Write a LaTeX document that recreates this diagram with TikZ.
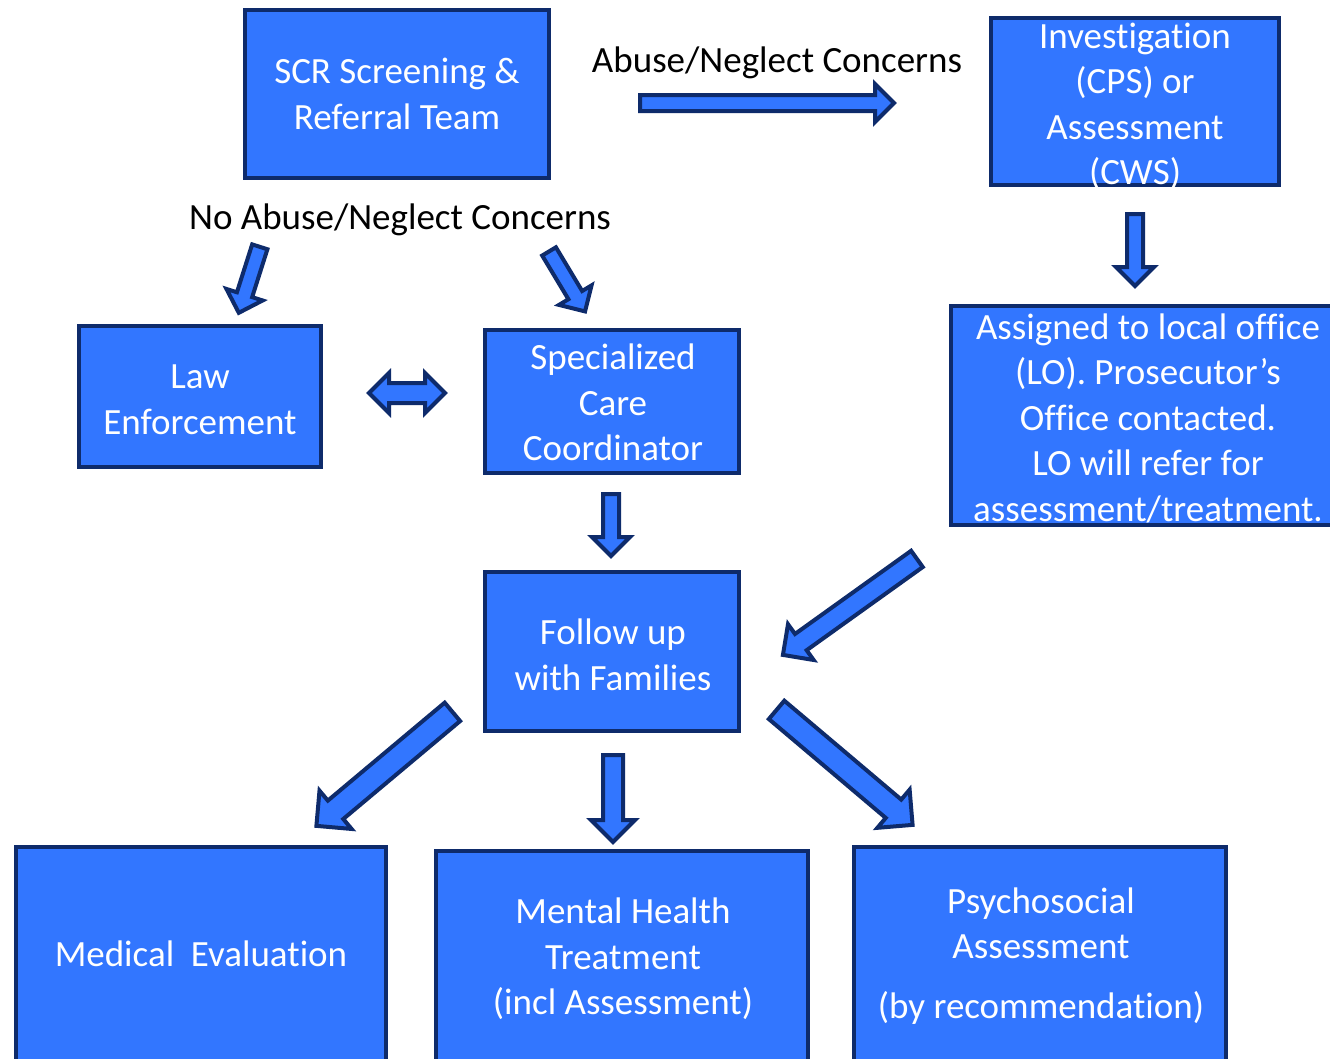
\documentclass[tikz,border=0pt]{standalone}
\usepackage{fontspec}
\setmainfont[Ligatures={NoCommon,NoContextual}]{Carlito}
\usetikzlibrary{shapes.arrows,calc}
\definecolor{boxblue}{RGB}{50,118,255}
\definecolor{navy}{RGB}{14,43,107}
\tikzset{
  box/.style={draw=navy, fill=boxblue, line width=4pt, inner sep=0pt},
  wtext/.style={text=white, align=center, inner sep=0pt, font=\fontsize{37}{45.5}\selectfont},
  lbl/.style={text=black, inner sep=0pt, font=\fontsize{37}{45.5}\selectfont},
  barrow/.style={single arrow, draw=navy, fill=boxblue, line width=4pt, inner xsep=0pt, inner ysep=6pt, single arrow head extend=11pt, single arrow tip angle=90},
  thickarr/.style={inner ysep=10pt, single arrow head extend=13pt},
  midarr/.style={inner ysep=8pt, single arrow head extend=12pt},
  bdarrow/.style={double arrow, draw=navy, fill=boxblue, line width=4pt, inner xsep=0pt, inner ysep=8pt, double arrow head extend=10pt, double arrow tip angle=90},
}
\newcommand\blockarrow[3][]{%
  \path let \p1=(#2), \p2=(#3), \n1={atan2(\y2-\y1,\x2-\x1)}, \n2={veclen(\x2-\x1,\y2-\y1)} in
    node[barrow,#1,minimum height=\n2,rotate=\n1] (#2-#3) at ($(#2)!0.5!(#3)$) {};}
\begin{document}
\begin{tikzpicture}[x=1pt,y=-1pt]
\useasboundingbox (0,0) rectangle (1330,1058);
% boxes
\node[box, minimum width=304, minimum height=168] (scr) at (397,94) {};
\node[wtext] (scrt) at (397,94) {SCR Screening \&\\Referral Team};
\node[box, minimum width=288, minimum height=167] (inv) at (1135,101.5) {};
\node[wtext] (invt) at (1135,106.5) {Investigation\\(CPS) or\\Assessment\\(CWS)};
\node[box, minimum width=242, minimum height=141] (law) at (200,396.5) {};
\node[wtext] (lawt) at (200,400) {Law\\Enforcement};
\node[box, minimum width=254, minimum height=143] (scc) at (612,401.5) {};
\node[wtext] (scct) at (613,402.5) {Specialized\\Care\\Coordinator};
\node[box, minimum width=384, minimum height=219] (lo) at (1143,415.5) {};
\node[wtext] (lot) at (1148,418) {Assigned to local office\\(LO). Prosecutor’s\\Office contacted.\\LO will refer for\\assessment/treatment.};
\node[box, minimum width=254, minimum height=159] (fup) at (612,651.5) {};
\node[wtext] (fupt) at (613,655) {Follow up\\with Families};
\node[box, anchor=north, minimum width=370, minimum height=240] (med) at (201,845) {};
\node[wtext] (medt) at (201,954) {Medical\ \ Evaluation};
\node[box, anchor=north, minimum width=372, minimum height=240] (mht) at (622,849) {};
\node[wtext] (mhtt) at (623,959) {Mental Health\\Treatment\\(incl Assessment)};
\node[box, anchor=north, minimum width=372, minimum height=240] (psy) at (1040,845) {};
\node[wtext] (psyt) at (1041,956) {Psychosocial\\Assessment\\[14pt](by recommendation)};
% labels
\node[lbl] (abl) at (777,63) {Abuse/Neglect Concerns};
\node[lbl] (nabl) at (400,220) {No Abuse/Neglect Concerns};
% arrow end points
\coordinate (a1s) at (636,103);  \coordinate (a1e) at (890,103);
\coordinate (a2s) at (1135,210); \coordinate (a2e) at (1135,282);
\coordinate (a3s) at (369,393);  \coordinate (a3e) at (445,393);
\coordinate (a4s) at (261,243);  \coordinate (a4e) at (240,309);
\coordinate (a5s) at (547,248);  \coordinate (a5e) at (583,308);
\coordinate (a6s) at (611,490);  \coordinate (a6e) at (611,552);
\coordinate (a7s) at (921,556);  \coordinate (a7e) at (787,652);
\coordinate (a8s) at (457,708);  \coordinate (a8e) at (321,822);
\coordinate (a9s) at (613,750);  \coordinate (a9e) at (613,837);
\coordinate (a10s) at (772,706); \coordinate (a10e) at (908,821);
% arrows
\blockarrow{a1s}{a1e}
\blockarrow{a2s}{a2e}
\path let \p1=(a3s), \p2=(a3e), \n2={veclen(\x2-\x1,\y2-\y1)} in
  node[bdarrow, minimum height=\n2] (a3) at ($(a3s)!0.5!(a3e)$) {};
\blockarrow{a4s}{a4e}
\blockarrow{a5s}{a5e}
\blockarrow{a6s}{a6e}
\blockarrow[midarr]{a7s}{a7e}
\blockarrow[thickarr]{a8s}{a8e}
\blockarrow[midarr]{a9s}{a9e}
\blockarrow[thickarr]{a10s}{a10e}
\end{tikzpicture}
\end{document}
